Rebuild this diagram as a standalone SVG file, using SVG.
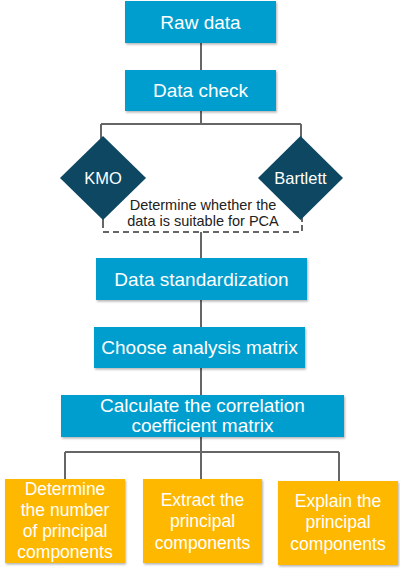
<svg xmlns="http://www.w3.org/2000/svg" width="400" height="571" viewBox="0 0 400 571">
<defs>
<filter id="sh" x="-10%" y="-10%" width="125%" height="130%">
<feDropShadow dx="1" dy="1.5" stdDeviation="1" flood-color="#000" flood-opacity="0.3"/>
</filter>
</defs>
<style>
.blue{fill:#009ECE;filter:url(#sh)}
.orange{fill:#FFB800;filter:url(#sh)}
.navy{fill:#0D4762}
.t{font-family:"Liberation Sans",Arial,sans-serif;fill:#fff;text-anchor:middle}
.bt{font-size:19px}
.ot{font-size:17.5px}
.dt{font-size:16.5px}
.cap{font-family:"Liberation Sans",Arial,sans-serif;fill:#222;text-anchor:middle;font-size:14.5px}
.ln{stroke:#666;stroke-width:2;fill:none}
.dash{stroke:#666;stroke-width:2;fill:none;stroke-dasharray:6 4}
</style>
<rect width="400" height="571" fill="#fff"/>
<g id="connectors">
<path class="ln" d="M201 43V70"/>
<path class="ln" d="M201 111V124M101 124H301M101 124V140M301 124V140"/>
<path class="ln" d="M103 216V222M302 216V222"/>
<path class="dash" d="M103 222V232H302V222"/>
<path class="ln" d="M201 232V258"/>
<path class="ln" d="M201 300V327"/>
<path class="ln" d="M201 368V395"/>
<path class="ln" d="M201 437V480M65 452H339M65 452V480M339 452V481"/>
</g>
<g id="raw-data">
<rect class="blue" x="125" y="1" width="151" height="42"/>
<text class="t bt" x="200.5" y="28.5">Raw data</text>
</g>
<g id="data-check">
<rect class="blue" x="125" y="70" width="151" height="41"/>
<text class="t bt" x="200.5" y="96.5">Data check</text>
</g>
<g id="kmo">
<path class="navy" d="M103 136L146 178L103 220L60 178Z"/>
<text class="t dt" x="103" y="183.5">KMO</text>
</g>
<g id="bartlett">
<path class="navy" d="M300.5 136L343 178L300.5 220L258 178Z"/>
<text class="t dt" x="300.5" y="183.5">Bartlett</text>
</g>
<g id="caption">
<text class="cap" x="203" y="210">Determine whether the</text>
<text class="cap" x="203" y="226">data is suitable for PCA</text>
</g>
<g id="data-standardization">
<rect class="blue" x="96" y="258" width="211" height="42"/>
<text class="t bt" x="201.5" y="285.5">Data standardization</text>
</g>
<g id="choose-analysis-matrix">
<rect class="blue" x="94" y="327" width="211" height="41"/>
<text class="t bt" x="199.5" y="354">Choose analysis matrix</text>
</g>
<g id="correlation-matrix">
<rect class="blue" x="61" y="395" width="283" height="42"/>
<text class="t bt" x="202.5" y="411.5">Calculate the correlation</text>
<text class="t bt" x="202.5" y="432">coefficient matrix</text>
</g>
<g id="determine-number">
<rect class="orange" x="5" y="479" width="120" height="84"/>
<text class="t ot" x="65" y="494.5">Determine</text>
<text class="t ot" x="65" y="516">the number</text>
<text class="t ot" x="65" y="536.5">of principal</text>
<text class="t ot" x="65" y="558">components</text>
</g>
<g id="extract">
<rect class="orange" x="143" y="479" width="119" height="84"/>
<text class="t ot" x="202.5" y="505.5">Extract the</text>
<text class="t ot" x="202.5" y="526.5">principal</text>
<text class="t ot" x="202.5" y="548.5">components</text>
</g>
<g id="explain">
<rect class="orange" x="278" y="481" width="120" height="84"/>
<text class="t ot" x="338" y="506.5">Explain the</text>
<text class="t ot" x="338" y="527.5">principal</text>
<text class="t ot" x="338" y="549.5">components</text>
</g>
</svg>
